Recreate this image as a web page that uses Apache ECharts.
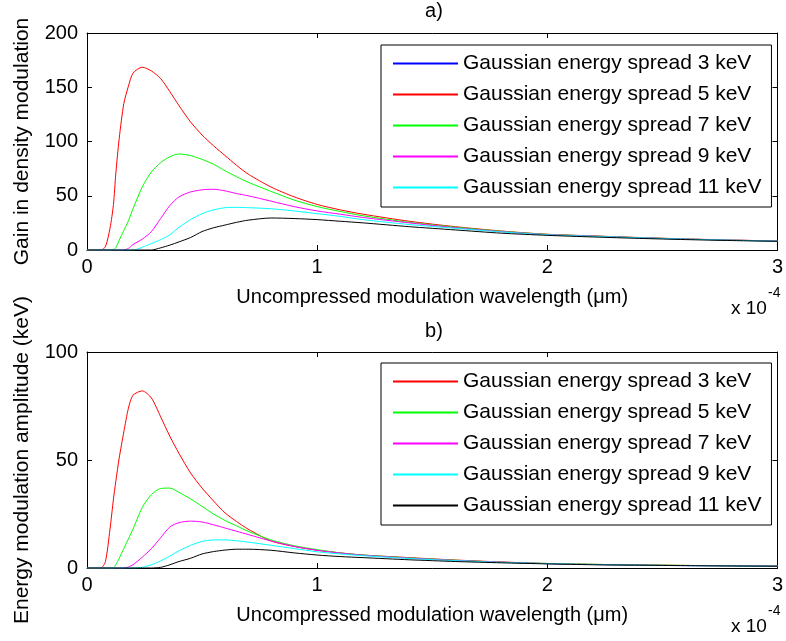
<!DOCTYPE html>
<html>
<head>
<meta charset="utf-8">
<script src="https://cdn.jsdelivr.net/npm/echarts@6/dist/echarts.min.js"></script>
<style>
  html, body { margin: 0; padding: 0; background: #fff; }
  #chart { width: 786px; height: 641px; }
</style>
</head>
<body>
<div id="chart"></div>
<script>
// wavelength in units of 1e-4 um (axis shows "x 10^-4")
const wavelength = [0, 0.06, 0.08, 0.1, 0.115, 0.125, 0.14, 0.16, 0.18, 0.2, 0.24, 0.28, 0.32, 0.36, 0.4, 0.45, 0.5, 0.55, 0.6, 0.65, 0.7, 0.8, 0.9, 1.0, 1.1, 1.2, 1.4, 1.6, 1.8, 2.0, 2.2, 2.4, 2.6, 2.8, 3.0]

// a) gain in density modulation
const gain3 = []
const gain5 = [0, 0, 3, 20, 42, 70, 103, 135, 151, 163, 168.5, 165, 158, 146, 133, 118, 106, 96, 87, 78, 70, 58, 49, 42, 37, 33, 26.5, 21.5, 17.5, 14.5, 13, 11.5, 10.2, 9.2, 8.3]
const gain7 = [0, 0, 0, 0, 0.5, 2, 9, 18, 27, 38, 58, 72, 80.5, 86, 88.5, 87, 83.5, 79, 73, 67.5, 62.5, 54, 46, 40, 35.5, 31.5, 25.5, 21, 17.3, 14.4, 12.9, 11.4, 10.1, 9.1, 8.2]
const gain9 = [0, 0, 0, 0, 0, 0, 0, 0, 1.5, 5, 10, 17, 29, 41, 49, 53.5, 55.5, 56, 54.5, 52, 50, 45, 40, 36, 33, 30, 25, 20.5, 17, 14.2, 12.8, 11.3, 10.1, 9.1, 8.2]
const gain11 = [0, 0, 0, 0, 0, 0, 0, 0, 0, 0, 2.5, 6, 9.5, 14, 21, 28, 33.5, 37, 39, 39.3, 39, 38, 36, 33.5, 31, 28, 23.5, 20, 16.7, 14, 12.6, 11.2, 10, 9, 8.1]
const gainBlack = [0, 0, 0, 0, 0, 0, 0, 0, 0, 0, 0, 0, 2, 4.5, 7.5, 11.5, 17, 20.5, 23, 25.5, 27.5, 29.5, 29, 28, 26.5, 25, 21.5, 18.5, 15.5, 13.5, 12, 10.7, 9.6, 8.7, 8.0]

// b) energy modulation amplitude (keV)
const amp3 = [0, 0, 3, 18, 32, 40, 51, 63, 74, 80, 82, 78.7, 70, 61, 53, 44, 37, 31, 25.5, 21.5, 18, 12.5, 10, 8.2, 7, 6, 4.8, 3.7, 2.8, 2.1, 1.7, 1.4, 1.2, 1.0, 0.9]
const amp5 = [0, 0, 0, 0, 0, 1.5, 4.5, 9, 13.5, 18, 28, 34, 36.8, 37, 35, 32, 28.5, 25, 22, 19.5, 17, 13, 10.3, 8.5, 7, 6, 4.7, 3.6, 2.7, 2.1, 1.7, 1.4, 1.2, 1.0, 0.9]
const amp7 = [0, 0, 0, 0, 0, 0, 0, 0, 0.5, 1.5, 5, 9, 14, 19, 21, 21.7, 21.3, 20, 18.5, 17, 15.5, 12.5, 10, 8.2, 6.9, 5.9, 4.6, 3.5, 2.7, 2.0, 1.6, 1.3, 1.1, 1.0, 0.9]
const amp9 = [0, 0, 0, 0, 0, 0, 0, 0, 0, 0, 0.3, 1.5, 3.3, 5.5, 8, 10.5, 12.3, 13, 13, 12.6, 12, 10.5, 9, 7.5, 6.5, 5.7, 4.4, 3.4, 2.6, 2.0, 1.6, 1.3, 1.1, 0.95, 0.85]
const amp11 = [0, 0, 0, 0, 0, 0, 0, 0, 0, 0, 0, 0, 0.3, 1.5, 3, 4.5, 6.5, 7.6, 8.3, 8.7, 8.7, 8.2, 7, 6, 5.3, 4.8, 3.8, 3, 2.4, 1.9, 1.5, 1.3, 1.1, 0.95, 0.8]

const spreadNames = ['Gaussian energy spread 3 keV', 'Gaussian energy spread 5 keV', 'Gaussian energy spread 7 keV', 'Gaussian energy spread 9 keV', 'Gaussian energy spread 11 keV']
const xTicks = ['0', '1', '2', '3']

const FONT = 'Liberation Sans, Arial, sans-serif'

const pairs = (ys) => ys.map((y, i) => [wavelength[i], y])

const line = (name, color, ys, grid) => ({
  name,
  type: 'line',
  xAxisIndex: grid * 2,
  yAxisIndex: grid * 2,
  data: pairs(ys),
  showSymbol: false,
  symbol: 'none',
  smooth: 0.25,
  silent: true,
  lineStyle: { color, width: 1 },
  itemStyle: { color }
})

const xAxis = (grid, pos, withName) => ({
  type: 'value',
  gridIndex: grid,
  position: pos,
  min: 0,
  max: 3,
  interval: 1,
  axisLine: { show: true, onZero: false, lineStyle: { color: '#000', width: 1 } },
  axisTick: { show: true, inside: true, length: 5, lineStyle: { color: '#000' } },
  axisLabel: {
    show: withName,
    margin: 7,
    fontSize: 20,
    color: '#000',
    fontFamily: FONT,
    formatter: (v) => xTicks[Math.round(v)]
  },
  splitLine: { show: false },
  name: withName ? 'Uncompressed modulation wavelength (μm)' : '',
  nameLocation: 'middle',
  nameGap: 37,
  nameTextStyle: { fontSize: 20, color: '#000', fontFamily: FONT }
})

const yAxis = (grid, pos, max, interval, name) => ({
  type: 'value',
  gridIndex: grid,
  position: pos,
  min: 0,
  max,
  interval,
  axisLine: { show: true, onZero: false, lineStyle: { color: '#000', width: 1 } },
  axisTick: { show: true, inside: true, length: 5, lineStyle: { color: '#000' } },
  axisLabel: { show: !!name, margin: 9, fontSize: 20, color: '#000', fontFamily: FONT },
  splitLine: { show: false },
  name: name || '',
  nameLocation: 'middle',
  nameGap: 54,
  nameTextStyle: { fontSize: 21, color: '#000', fontFamily: FONT }
})

const legend = (top, colors) => ({
  left: 381,
  top,
  orient: 'vertical',
  icon: 'rect',
  itemWidth: 65,
  itemHeight: 2,
  itemGap: 10,
  padding: [8, 10, 9, 12],
  borderColor: '#000',
  borderWidth: 1,
  backgroundColor: '#fff',
  selectedMode: false,
  textStyle: { fontSize: 21, lineHeight: 20, color: '#000', fontFamily: FONT },
  data: spreadNames.map((n, i) => ({ name: n, itemStyle: { color: colors[i] }, lineStyle: { color: colors[i] } }))
})

const chart = echarts.init(document.getElementById('chart'))

const option = {
  animation: false,
  backgroundColor: '#fff',
  title: [
    { text: 'a)', left: 434, top: 1, textAlign: 'center', padding: 0, textStyle: { fontSize: 20, fontWeight: 'normal', color: '#000', fontFamily: FONT } },
    { text: 'b)', left: 434, top: 321, textAlign: 'center', padding: 0, textStyle: { fontSize: 20, fontWeight: 'normal', color: '#000', fontFamily: FONT } }
  ],
  grid: [
    { left: 87, top: 33, width: 694, height: 217, containLabel: false },
    { left: 87, top: 352, width: 694, height: 216, containLabel: false }
  ],
  xAxis: [
    xAxis(0, 'bottom', true),
    xAxis(0, 'top', false),
    xAxis(1, 'bottom', true),
    xAxis(1, 'top', false)
  ],
  yAxis: [
    yAxis(0, 'left', 200, 50, 'Gain in density modulation'),
    yAxis(0, 'right', 200, 50, ''),
    yAxis(1, 'left', 100, 50, 'Energy modulation amplitude (keV)'),
    yAxis(1, 'right', 100, 50, '')
  ],
  legend: [
    legend(45, ['#0000ff', '#ff0000', '#00ff00', '#ff00ff', '#00ffff']),
    legend(363, ['#ff0000', '#00ff00', '#ff00ff', '#00ffff', '#000000'])
  ],
  graphic: [
    { type: 'text', left: 731, top: 299, style: { text: 'x 10', font: '19px ' + FONT, fill: '#000' } },
    { type: 'text', left: 768, top: 286, style: { text: '-4', font: '14px ' + FONT, fill: '#000' } },
    { type: 'text', left: 731, top: 617, style: { text: 'x 10', font: '19px ' + FONT, fill: '#000' } },
    { type: 'text', left: 768, top: 604, style: { text: '-4', font: '14px ' + FONT, fill: '#000' } }
  ],
  series: [
    line(spreadNames[0], '#0000ff', gain3, 0),
    line(spreadNames[1], '#ff0000', gain5, 0),
    line(spreadNames[2], '#00ff00', gain7, 0),
    line(spreadNames[3], '#ff00ff', gain9, 0),
    line(spreadNames[4], '#00ffff', gain11, 0),
    line('unlabelled curve', '#000000', gainBlack, 0),
    line(spreadNames[0], '#ff0000', amp3, 1),
    line(spreadNames[1], '#00ff00', amp5, 1),
    line(spreadNames[2], '#ff00ff', amp7, 1),
    line(spreadNames[3], '#00ffff', amp9, 1),
    line(spreadNames[4], '#000000', amp11, 1)
  ]
}

chart.setOption(option)
</script>
</body>
</html>
